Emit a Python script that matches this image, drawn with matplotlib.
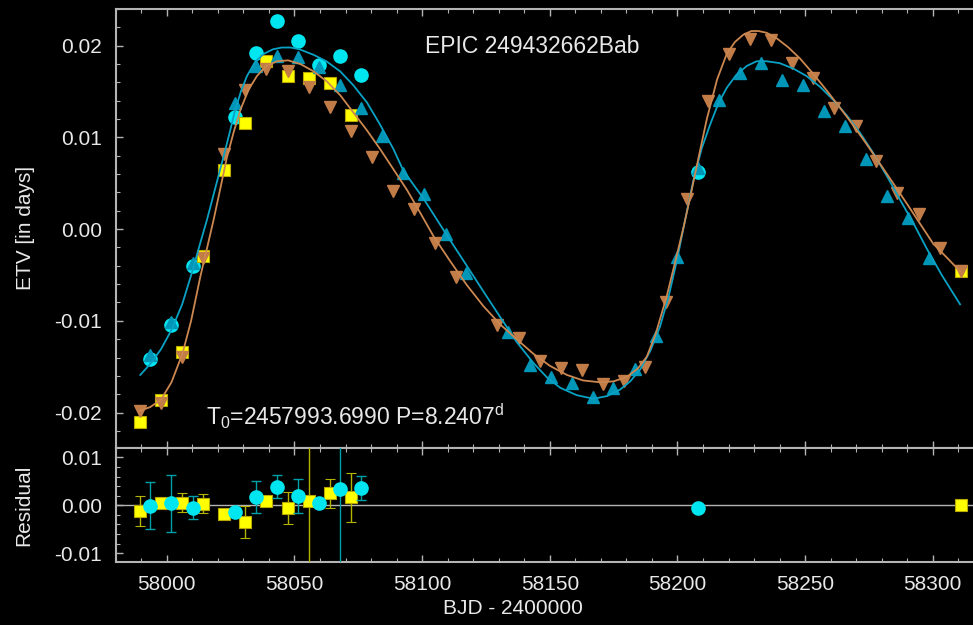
import matplotlib
matplotlib.use("Agg")
import matplotlib.pyplot as plt
from matplotlib.ticker import MultipleLocator, FormatStrFormatter

plt.rcParams["font.family"] = ["Liberation Sans", "DejaVu Sans"]
plt.rcParams["axes.unicode_minus"] = False
plt.rcParams["mathtext.fontset"] = "custom"
plt.rcParams["mathtext.rm"] = "Liberation Sans"

# --- data (BJD - 2400000, ETV in days) ---
cyan_x = [57993.5, 58001.8, 58010.1, 58026.5, 58034.8, 58043.1, 58051.4, 58059.7, 58067.9, 58076.2, 58208.0]
cyan_y = [-0.0142, -0.0105, -0.0040, 0.0122, 0.0192, 0.0227, 0.0205, 0.0179, 0.0189, 0.0168, 0.0062]
cyan_res = [-0.0001, 0.0004, -0.0005, -0.0014, 0.0017, 0.0039, 0.0019, 0.0004, 0.0034, 0.0037, -0.0005]
cyan_err = [0.0049, 0.0059, 0.0024, 0.0005, 0.0033, 0.0024, 0.0036, 0.0005, 0.05, 0.0025, 0.0005]

yel_x = [57989.5, 57997.7, 58006.1, 58014.0, 58022.4, 58030.7, 58039.0, 58047.3, 58055.5, 58063.8, 58072.0, 58311.1]
yel_y = [-0.0210, -0.0186, -0.0134, -0.0029, 0.0064, 0.0116, 0.0183, 0.0167, 0.0165, 0.0159, 0.0124, -0.0046]
yel_res = [-0.0012, 0.0005, 0.0005, 0.0003, -0.0019, -0.0035, 0.0008, -0.0006, 0.0009, 0.0025, 0.0017, 0.0000]
yel_err = [0.0031, 0.0005, 0.0020, 0.0020, 0.0005, 0.0033, 0.0005, 0.0034, 0.05, 0.0030, 0.0051, 0.0004]

teal_x = [57993.5, 58001.8, 58010.1, 58026.5, 58034.8, 58043.1, 58051.4, 58059.7, 58067.9, 58076.2,
          58084.4, 58092.6, 58100.6, 58109.3, 58117.3, 58133.7, 58142.1, 58150.3, 58158.5, 58166.9,
          58174.9, 58183.3, 58191.5, 58199.7, 58208.0, 58216.2, 58224.6, 58232.7, 58241.0, 58249.2,
          58257.3, 58265.7, 58274.0, 58282.2, 58290.3, 58298.7]
teal_y = [-0.0137, -0.0101, -0.0037, 0.0138, 0.0178, 0.0189, 0.0188, 0.0177, 0.0157, 0.0132,
          0.0101, 0.0061, 0.0038, -0.0005, -0.0048, -0.0112, -0.0148, -0.0161, -0.0168, -0.0183,
          -0.0173, -0.0153, -0.0116, -0.0030, 0.0067, 0.0141, 0.0170, 0.0181, 0.0163, 0.0157,
          0.0129, 0.0112, 0.0076, 0.0036, 0.0012, -0.0031]

brown_x = [57989.5, 57997.7, 58006.1, 58014.0, 58022.4, 58030.7, 58039.0, 58047.3, 58055.5, 58063.8,
           58072.0, 58080.3, 58088.6, 58096.7, 58105.0, 58113.2, 58129.5, 58137.9, 58146.1, 58154.3,
           58162.6, 58170.8, 58179.0, 58187.4, 58195.6, 58203.7, 58212.0, 58220.2, 58228.5, 58236.8,
           58245.0, 58253.2, 58261.5, 58269.9, 58277.9, 58286.1, 58294.5, 58302.9, 58311.1]
brown_y = [-0.0198, -0.0190, -0.0139, -0.0032, 0.0082, 0.0152, 0.0175, 0.0172, 0.0155, 0.0133,
           0.0107, 0.0079, 0.0042, 0.0022, -0.0015, -0.0052, -0.0105, -0.0119, -0.0144, -0.0151,
           -0.0154, -0.0169, -0.0166, -0.0150, -0.0080, 0.0033, 0.0140, 0.0191, 0.0207, 0.0206,
           0.0181, 0.0165, 0.0132, 0.0112, 0.0074, 0.0039, 0.0016, -0.0021, -0.0046]

# model curves, points
teal_fit_x = [57989.6, 57993.5, 57997.7, 58001.8, 58006.0, 58010.1, 58013.0, 58015.7, 58019.0, 58022.2,
              58024.5, 58026.5, 58029.0, 58031.4, 58034.5, 58037.9, 58041.5, 58045.0, 58048.5, 58052.0,
              58057.5, 58062.5, 58067.9, 58073.0, 58078.4, 58083.5, 58088.8, 58092.6, 58100.6, 58109.3,
              58117.5, 58124.0, 58130.6, 58137.0, 58143.6, 58149.0, 58154.1, 58160.5, 58167.1, 58172.5,
              58177.5, 58181.5, 58185.4, 58189.5, 58193.2, 58196.5, 58199.8, 58203.0, 58206.3, 58209.5,
              58212.8, 58216.0, 58219.3, 58223.0, 58227.2, 58231.0, 58235.0, 58240.0, 58245.4, 58250.5,
              58255.9, 58261.0, 58266.3, 58271.5, 58276.7, 58282.0, 58287.2, 58292.5, 58297.6, 58303.5,
              58310.7]
teal_fit_y = [-0.0159, -0.0147, -0.0131, -0.0110, -0.0082, -0.0045, -0.0016, 0.0010, 0.0045, 0.0079,
              0.0104, 0.0127, 0.0150, 0.0167, 0.0182, 0.0191, 0.0196, 0.0198, 0.0198, 0.0196,
              0.0190, 0.0183, 0.0172, 0.0157, 0.0138, 0.0114, 0.0087, 0.0064, 0.0033, -0.0005,
              -0.0040, -0.0068, -0.0096, -0.0123, -0.0146, -0.0162, -0.0173, -0.0181, -0.0185, -0.0182,
              -0.0175, -0.0166, -0.0153, -0.0132, -0.0106, -0.0074, -0.0034, 0.0010, 0.0054, 0.0088,
              0.0114, 0.0137, 0.0154, 0.0168, 0.0178, 0.0183, 0.0183, 0.0181, 0.0175, 0.0167,
              0.0155, 0.0141, 0.0124, 0.0105, 0.0083, 0.0058, 0.0032, 0.0006, -0.0021, -0.0050,
              -0.0082]

brown_fit_x = [57989.5, 57993.5, 57997.7, 58001.8, 58006.1, 58009.5, 58013.1, 58015.8, 58018.3, 58021.0,
               58023.6, 58026.2, 58028.8, 58032.0, 58035.3, 58039.0, 58043.1, 58047.5, 58052.3, 58057.5,
               58062.7, 58067.9, 58073.1, 58078.3, 58083.6, 58088.8, 58094.0, 58099.2, 58104.5, 58111.0,
               58117.5, 58124.0, 58130.6, 58137.0, 58143.6, 58150.0, 58156.7, 58163.0, 58169.7, 58175.0,
               58180.2, 58184.5, 58188.0, 58191.5, 58195.8, 58199.0, 58202.3, 58205.0, 58207.5, 58211.5,
               58215.5, 58219.3, 58222.5, 58225.8, 58229.0, 58231.7, 58235.0, 58238.9, 58243.5, 58248.0,
               58253.0, 58258.5, 58263.5, 58268.9, 58274.0, 58279.4, 58284.5, 58289.8, 58295.0, 58300.2,
               58305.5, 58310.7]
brown_fit_y = [-0.0198, -0.0194, -0.0186, -0.0167, -0.0136, -0.0100, -0.0052, -0.0020, 0.0010, 0.0045,
               0.0079, 0.0106, 0.0130, 0.0152, 0.0167, 0.0178, 0.0183, 0.0184, 0.0180, 0.0172,
               0.0161, 0.0146, 0.0127, 0.0108, 0.0087, 0.0065, 0.0043, 0.0018, -0.0008, -0.0035,
               -0.0061, -0.0084, -0.0104, -0.0120, -0.0136, -0.0149, -0.0159, -0.0165, -0.0167, -0.0166,
               -0.0161, -0.0152, -0.0139, -0.0114, -0.0073, -0.0037, 0.0001, 0.0035, 0.0068, 0.0120,
               0.0163, 0.0191, 0.0204, 0.0212, 0.0216, 0.0216, 0.0214, 0.0208, 0.0198, 0.0186,
               0.0170, 0.0151, 0.0133, 0.0113, 0.0093, 0.0071, 0.0050, 0.0028, 0.0006, -0.0016,
               -0.0031, -0.0046]

c_cyan = "#00e6f0"
c_yel = "#ffff00"
c_teal = "#0096b8"
c_brown = "#c27c48"
c_tealline = "#0aa2c4"
c_brownline = "#cc8850"
c_spine = "#b4b4b4"
c_text = "#e8e8e8"

fig = plt.figure(figsize=(9.73, 6.25), dpi=100, facecolor="black")
ax1 = fig.add_axes([0.119, 0.2827, 0.8832, 0.7029], facecolor="black")
ax2 = fig.add_axes([0.119, 0.1003, 0.8832, 0.1824], facecolor="black", sharex=ax1)

# top panel
ax1.plot(cyan_x, cyan_y, "o", color=c_cyan, ms=9.5, mec=c_cyan, zorder=2)
ax1.plot(yel_x, yel_y, "s", color=c_yel, ms=9, mec="#b8a800", mew=0.8, zorder=3)
ax1.plot(teal_x, teal_y, "^", color=c_teal, ms=9, mec=c_teal, zorder=4)
ax1.plot(brown_x, brown_y, "v", color=c_brown, ms=9, mec=c_brown, zorder=4)
ax1.plot(teal_fit_x, teal_fit_y, "-", color=c_tealline, lw=1.3, zorder=5)
ax1.plot(brown_fit_x, brown_fit_y, "-", color=c_brownline, lw=1.3, zorder=5)

ax1.text(58101.2, 0.0192, "EPIC 249432662Bab", color=c_text, fontsize=16.5)
ax1.text(58015.2, -0.0214, r"T$_\mathregular{0}$=2457993.6990 P=8.2407$^\mathregular{d}$",
         color=c_text, fontsize=16.5)

# residual panel
ax2.axhline(0, color=c_spine, lw=1.0, zorder=1)
ax2.errorbar(yel_x, yel_res, yerr=yel_err, fmt="s", color=c_yel, ms=9, mec="#b8a800", mew=0.8,
             ecolor="#b4b400", elinewidth=1.0, capsize=3.5, capthick=1.0, zorder=3)
ax2.errorbar(cyan_x, cyan_res, yerr=cyan_err, fmt="o", color=c_cyan, ms=9.5, mec=c_cyan,
             ecolor="#00a0a8", elinewidth=1.0, capsize=3.5, capthick=1.0, zorder=4)

ax1.set_xlim(57980, 58316.6)
ax1.set_ylim(-0.0239, 0.0240)
ax2.set_ylim(-0.0119, 0.0119)

ax1.xaxis.set_major_locator(MultipleLocator(50))
ax1.xaxis.set_minor_locator(MultipleLocator(10))
ax1.yaxis.set_major_locator(MultipleLocator(0.01))
ax1.yaxis.set_minor_locator(MultipleLocator(0.002))
ax2.yaxis.set_major_locator(MultipleLocator(0.01))
ax2.yaxis.set_minor_locator(MultipleLocator(0.002))
ax1.yaxis.set_major_formatter(FormatStrFormatter("%.2f"))
ax2.yaxis.set_major_formatter(FormatStrFormatter("%.2f"))

for ax in (ax1, ax2):
    for s in ax.spines.values():
        s.set_color(c_spine)
        s.set_linewidth(1.5)
    ax.spines["right"].set_visible(False)
    ax.tick_params(which="both", direction="in", top=True, right=False, color=c_spine,
                   labelcolor=c_text, labelsize=15)
    ax.tick_params(which="major", length=5, width=1)
    ax.tick_params(which="minor", length=3, width=0.8)
    ax.tick_params(axis="y", pad=10)
    ax.tick_params(axis="x", pad=9)

ax1.tick_params(labelbottom=False)

fig.text(0.026, 1 - 228 / 625, "ETV [in days]", rotation=90, color=c_text, fontsize=15,
         ha="center", va="center")
fig.text(0.024, 1 - 505 / 625, "Residual", rotation=90, color=c_text, fontsize=15,
         ha="center", va="center")
fig.text(513 / 973, 1 - 608 / 625, "BJD - 2400000", color=c_text, fontsize=15,
         ha="center", va="center")

fig.savefig("out.png", dpi=100, facecolor="black")
